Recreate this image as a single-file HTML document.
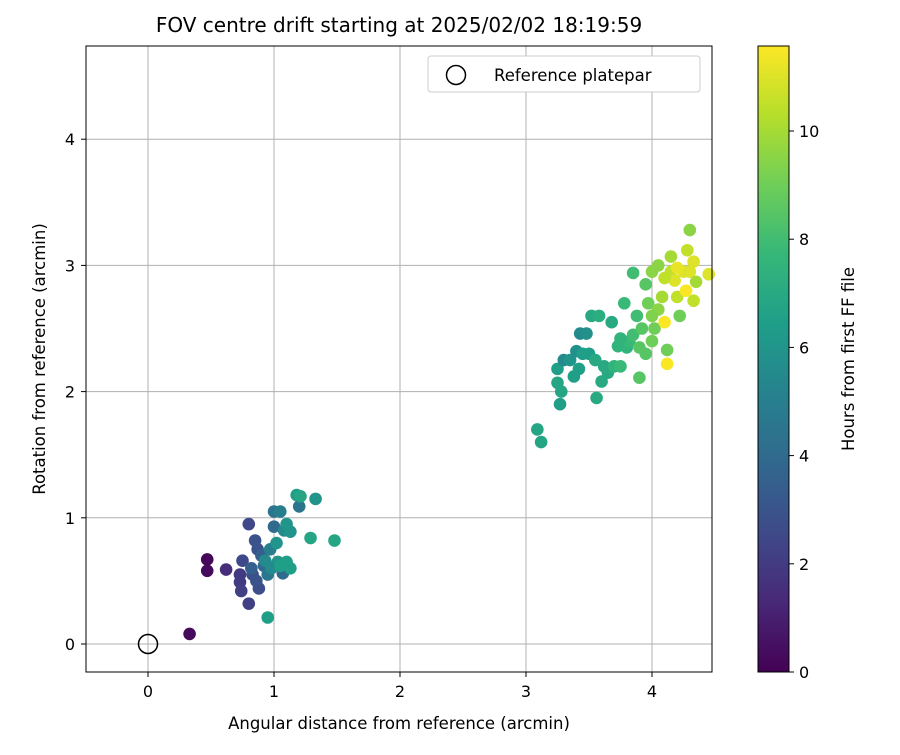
<!DOCTYPE html>
<html><head><meta charset="utf-8"><style>
body{margin:0;background:#fff;}
svg{font-family:"DejaVu Sans","Liberation Sans",sans-serif;}
</style></head><body>
<svg id="chart" width="900" height="750" xmlns="http://www.w3.org/2000/svg">
<defs>
<linearGradient id="vir" x1="0" y1="1" x2="0" y2="0">
<stop offset="0" stop-color="#440154"/><stop offset="0.1111" stop-color="#482878"/>
<stop offset="0.2222" stop-color="#3e4a89"/><stop offset="0.3333" stop-color="#31688e"/>
<stop offset="0.4444" stop-color="#26828e"/><stop offset="0.5556" stop-color="#1f9e89"/>
<stop offset="0.6667" stop-color="#35b779"/><stop offset="0.7778" stop-color="#6ece58"/>
<stop offset="0.8889" stop-color="#b5de2b"/><stop offset="1" stop-color="#fde725"/>
</linearGradient>
</defs>
<text x="399" y="32" font-size="20" text-anchor="middle">FOV centre drift starting at 2025/02/02 18:19:59</text>
<g id="grid"></g>
<g id="pts"></g>
<rect x="86" y="46" width="626" height="626" fill="none" stroke="#000" stroke-width="1"/>
<g id="ticks"></g>
<text x="399" y="729" font-size="16.5" text-anchor="middle">Angular distance from reference (arcmin)</text>
<text transform="translate(45,359) rotate(-90)" font-size="16.5" text-anchor="middle">Rotation from reference (arcmin)</text>
<g>
<rect x="428" y="56" width="272" height="36" rx="3" fill="#fff" stroke="#ccc"/>
<circle cx="456" cy="75" r="9.5" fill="none" stroke="#000" stroke-width="1.5"/>
<text x="494" y="81" font-size="16.5">Reference platepar</text>
</g>
<rect x="758" y="46" width="31" height="626" fill="url(#vir)" stroke="#000" stroke-width="1"/>
<g id="cbticks"></g>
<text transform="translate(854,359) rotate(-90)" font-size="16.5" text-anchor="middle">Hours from first FF file</text>
</svg>
<script>
const xVals=[0.33,0.47,0.47,0.62,0.73,0.73,0.74,0.75,0.8,0.8,0.83,0.85,0.87,0.88,0.9,0.92,0.95,0.95,0.97,1.0,1.0,1.02,1.03,1.05,1.07,1.08,1.1,1.1,1.13,1.13,1.18,1.2,1.21,1.29,1.33,1.48,0.86,0.82,0.98,1.05,0.93,
3.09,3.12,3.25,3.25,3.27,3.28,3.3,3.35,3.38,3.4,3.42,3.43,3.45,3.48,3.5,3.52,3.56,3.58,3.6,3.62,3.65,3.68,3.7,3.73,3.75,3.78,3.8,3.82,3.85,3.85,3.88,3.9,3.9,3.92,3.95,3.97,4.0,4.0,4.02,4.05,4.08,4.1,4.12,4.12,4.15,4.15,4.18,4.2,4.22,4.25,4.27,4.28,4.3,4.3,4.33,4.35,4.33,4.45,4.05,4.1,4.2,3.95,4.0,3.75,3.55];
const yVals=[0.08,0.67,0.58,0.59,0.55,0.49,0.42,0.66,0.95,0.32,0.55,0.82,0.75,0.44,0.7,0.62,0.55,0.21,0.75,0.93,1.05,0.8,0.65,1.05,0.56,0.9,0.95,0.65,0.89,0.6,1.18,1.09,1.17,0.84,1.15,0.82,0.5,0.6,0.6,0.62,0.66,
1.7,1.6,2.07,2.18,1.9,2.0,2.25,2.25,2.12,2.32,2.18,2.46,2.3,2.46,2.3,2.6,1.95,2.6,2.08,2.2,2.15,2.55,2.2,2.36,2.2,2.7,2.35,2.4,2.45,2.94,2.6,2.11,2.35,2.5,2.85,2.7,2.4,2.95,2.5,3.0,2.75,2.55,2.22,2.33,2.95,3.07,2.88,2.75,2.6,2.95,2.8,3.12,3.28,2.95,2.72,2.87,3.03,2.93,2.65,2.9,2.98,2.3,2.6,2.42,2.25];
const tVals=[0.3,0.2,0.3,1.5,2,2,2.2,2.5,2.5,2.2,2.8,3,3,2.8,3.5,4,4.5,6.5,5,4,4.5,6,6,5,4,5.5,6,6.5,6,6.5,6.5,4.5,6.8,6.8,6,6.8,3,3.5,5.5,6.5,5.5,
6.8,6.8,6.8,6.5,6.5,6.8,5.5,6,6.5,5.8,6.5,5.5,6.5,5.8,6.5,7,7,7.2,7,7,7,7,7.5,7.5,7.8,7.8,7.5,7.8,8,8,8,8.5,8.5,8.5,8.5,9,9,9.5,9,9.5,10,11.5,11.5,9,10.5,10,11,10.5,9,11,11.5,10.5,9.5,11,10.5,10,11,11,9.5,10.5,11.2,8.5,9.3,7.5,7];
const xTicks=[0,1,2,3,4], yTicks=[0,1,2,3,4], cTicks=[0,2,4,6,8,10];
const X=v=>148+v*126, Y=v=>644-v*126.2, C=v=>672-v*54.1, tMax=11.57;
const stops=["#440154","#482878","#3e4a89","#31688e","#26828e","#1f9e89","#35b779","#6ece58","#b5de2b","#fde725"];
function hex(h){return [1,3,5].map(i=>parseInt(h.substr(i,2),16));}
function vir(t){let f=Math.max(0,Math.min(1,t/tMax))*9,i=Math.min(8,Math.floor(f)),r=f-i;
 const a=hex(stops[i]),b=hex(stops[i+1]);return 'rgb('+a.map((c,k)=>Math.round(c+(b[k]-c)*r)).join(',')+')';}
const NS="http://www.w3.org/2000/svg";
function mk(tag,at,parent){const e=document.createElementNS(NS,tag);for(const k in at)e.setAttribute(k,at[k]);document.getElementById(parent).appendChild(e);return e;}
xTicks.forEach(v=>{
 const g=mk('line',{x1:X(v),x2:X(v),y1:46,y2:672,stroke:'#b0b0b0','stroke-width':1},'grid');
 
 
 mk('line',{x1:X(v),x2:X(v),y1:672,y2:677,stroke:'#000'},'ticks');
 const t=mk('text',{x:X(v),y:697,'font-size':16,'text-anchor':'middle'},'ticks');t.textContent=v;
 
 
});
yTicks.forEach(v=>{
 const g=mk('line',{x1:86,x2:712,y1:Y(v),y2:Y(v),stroke:'#b0b0b0','stroke-width':1},'grid');
 
 
 mk('line',{x1:81,x2:86,y1:Y(v),y2:Y(v),stroke:'#000'},'ticks');
 const t=mk('text',{x:75,y:Y(v)+6,'font-size':16,'text-anchor':'end'},'ticks');t.textContent=v;
 
 
});
cTicks.forEach(v=>{
 mk('line',{x1:789,x2:794,y1:C(v),y2:C(v),stroke:'#000'},'cbticks');
 const t=mk('text',{x:799,y:C(v)+6,'font-size':16},'cbticks');t.textContent=v;
 
 
});
xVals.forEach((x,i)=>{
 const c=mk('circle',{cx:X(x),cy:Y(yVals[i]),r:6.3,fill:vir(tVals[i])},'pts');
 
 
});
const ref=mk('circle',{cx:X(0),cy:Y(0),r:9.5,fill:'none',stroke:'#000','stroke-width':1.5},'pts');


</script>
</body></html>
